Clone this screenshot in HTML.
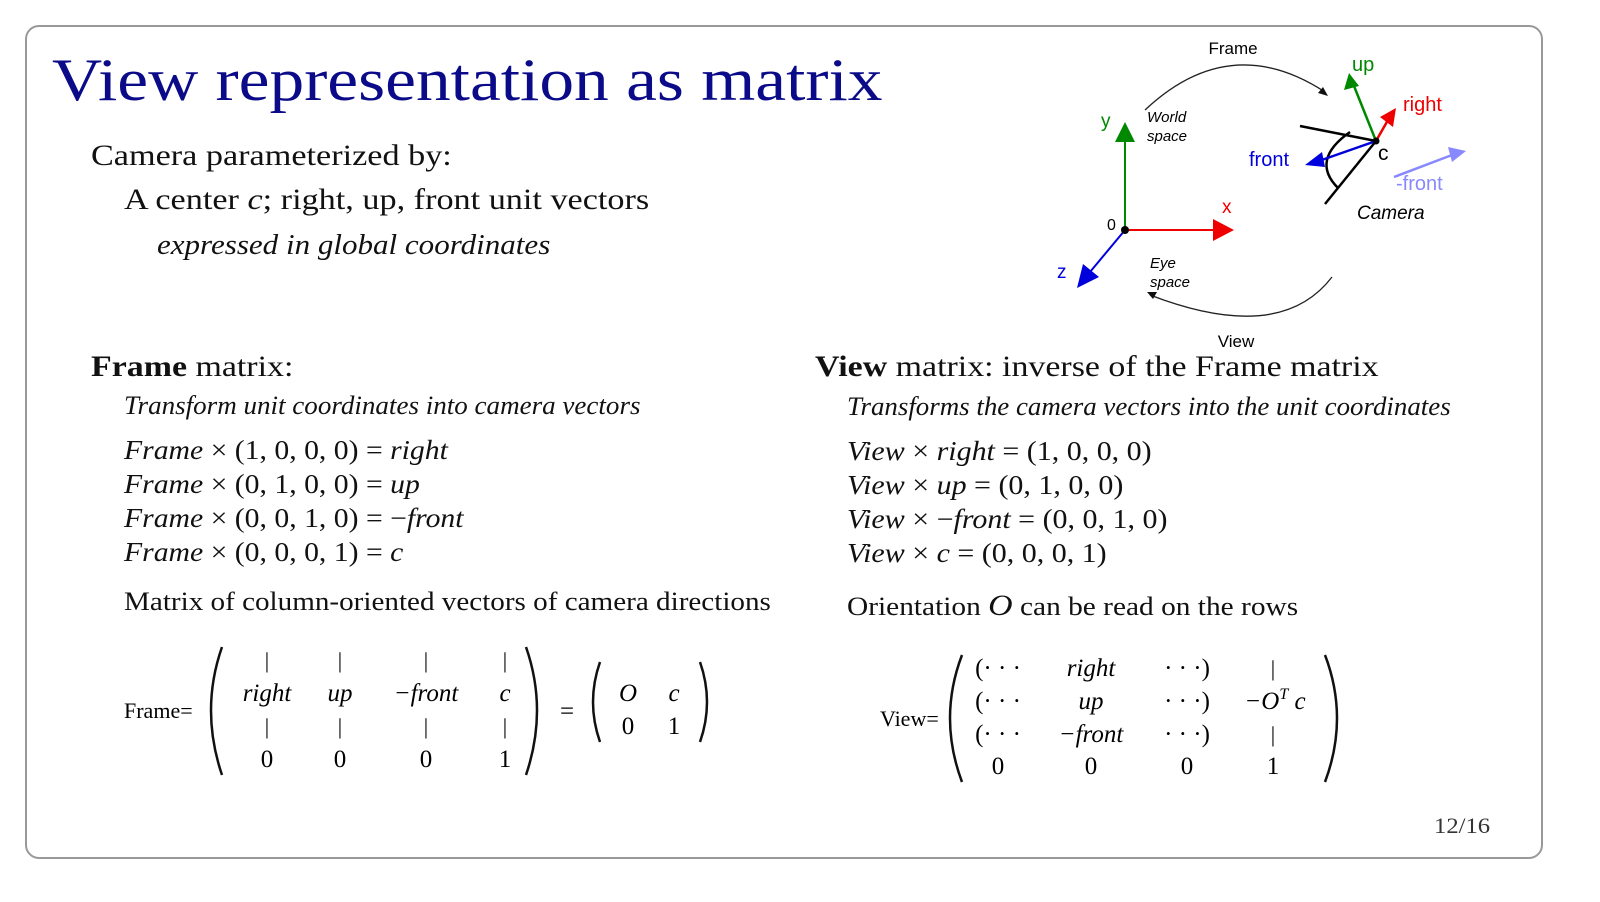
<!DOCTYPE html>
<html><head><meta charset="utf-8"><style>
html,body{margin:0;padding:0;background:#fff;}
body{width:1600px;height:902px;position:relative;overflow:hidden;font-family:"Liberation Serif",serif;color:#111;}
.t{position:absolute;white-space:nowrap;line-height:1;transform-origin:0 50%;}
.i{font-style:italic;}
</style></head><body>
<div style="position:absolute;left:25px;top:25px;width:1514px;height:830px;border:2px solid #999;border-radius:14px;"></div>
<div class="t" style="left:52px;top:50px;font-size:60px;color:#0b0b8a;transform:scaleX(1.157)">View representation as matrix</div>
<div class="t" style="left:91px;top:141px;font-size:30px;transform:scaleX(1.14)">Camera parameterized by:</div>
<div class="t" style="left:124px;top:185px;font-size:30px;transform:scaleX(1.14)">A center <i>c</i>; right, up, front unit vectors</div>
<div class="t i" style="left:157px;top:231px;font-size:29px;transform:scaleX(1.07)">expressed in global coordinates</div>

<div class="t" style="left:91px;top:352px;font-size:30px;transform:scaleX(1.13)"><b>Frame</b> matrix:</div>
<div class="t i" style="left:124px;top:393px;font-size:26px;transform:scaleX(1.04)">Transform unit coordinates into camera vectors</div>
<div class="t" style="left:124px;top:437px;font-size:27px;transform:scaleX(1.1)"><i>Frame</i> × (1, 0, 0, 0) = <i>right</i></div>
<div class="t" style="left:124px;top:471px;font-size:27px;transform:scaleX(1.1)"><i>Frame</i> × (0, 1, 0, 0) = <i>up</i></div>
<div class="t" style="left:124px;top:505px;font-size:27px;transform:scaleX(1.1)"><i>Frame</i> × (0, 0, 1, 0) = −<i>front</i></div>
<div class="t" style="left:124px;top:539px;font-size:27px;transform:scaleX(1.1)"><i>Frame</i> × (0, 0, 0, 1) = <i>c</i></div>
<div class="t" style="left:124px;top:589px;font-size:26px;transform:scaleX(1.12)">Matrix of column-oriented vectors of camera directions</div>

<div class="t" style="left:815px;top:352px;font-size:30px;transform:scaleX(1.13)"><b>View</b> matrix: inverse of the Frame matrix</div>
<div class="t i" style="left:847px;top:394px;font-size:26px;transform:scaleX(1.035)">Transforms the camera vectors into the unit coordinates</div>
<div class="t" style="left:847px;top:438px;font-size:27px;transform:scaleX(1.11)"><i>View</i> × <i>right</i> = (1, 0, 0, 0)</div>
<div class="t" style="left:847px;top:472px;font-size:27px;transform:scaleX(1.11)"><i>View</i> × <i>up</i> = (0, 1, 0, 0)</div>
<div class="t" style="left:847px;top:506px;font-size:27px;transform:scaleX(1.11)"><i>View</i> × −<i>front</i> = (0, 0, 1, 0)</div>
<div class="t" style="left:847px;top:540px;font-size:27px;transform:scaleX(1.11)"><i>View</i> × <i>c</i> = (0, 0, 0, 1)</div>
<div class="t" style="left:847px;top:591px;font-size:26px;transform:scaleX(1.13)">Orientation <i style="font-size:30px">O</i> can be read on the rows</div>

<div class="t" style="left:1434px;top:815px;font-size:22px;color:#333;transform:scaleX(1.12)">12/16</div>

<svg width="1600" height="902" style="position:absolute;left:0;top:0" font-family="Liberation Serif, serif" font-size="25">
<g fill="none" stroke="#111" stroke-width="2.5">
<path d="M222 647 Q200 710 222 775"/><path d="M526 647 Q548 710 526 775"/>
<path d="M600 662 Q586 702 600 742"/><path d="M700 662 Q714 702 700 742"/>
<path d="M962 655 Q938 718 962 782"/><path d="M1325 655 Q1349 718 1325 782"/>
</g>
<g text-anchor="middle">
<text x="124" y="718" text-anchor="start" font-size="22">Frame=</text>
<g font-size="22"><text x="267" y="668">|</text><text x="340" y="668">|</text><text x="426" y="668">|</text><text x="505" y="668">|</text>
<text x="267" y="734">|</text><text x="340" y="734">|</text><text x="426" y="734">|</text><text x="505" y="734">|</text></g>
<text x="267" y="701" font-style="italic">right</text><text x="340" y="701" font-style="italic">up</text><text x="426" y="701" font-style="italic">−front</text><text x="505" y="701" font-style="italic">c</text>
<text x="267" y="767">0</text><text x="340" y="767">0</text><text x="426" y="767">0</text><text x="505" y="767">1</text>
<text x="567" y="719">=</text>
<text x="628" y="701" font-style="italic">O</text><text x="674" y="701" font-style="italic">c</text>
<text x="628" y="734">0</text><text x="674" y="734">1</text>
<text x="880" y="726" text-anchor="start" font-size="22">View=</text>
<text x="998" y="676">(· · ·</text><text x="1091" y="676" font-style="italic">right</text><text x="1187" y="676">· · ·)</text>
<text x="998" y="709">(· · ·</text><text x="1091" y="709" font-style="italic">up</text><text x="1187" y="709">· · ·)</text>
<text x="998" y="742">(· · ·</text><text x="1091" y="742" font-style="italic">−front</text><text x="1187" y="742">· · ·)</text>
<text x="998" y="774">0</text><text x="1091" y="774">0</text><text x="1187" y="774">0</text><text x="1273" y="774">1</text>
<text x="1273" y="676" font-size="22">|</text><text x="1273" y="742" font-size="22">|</text>
<text x="1275" y="709" font-style="italic">−O<tspan font-size="16" dy="-10">T</tspan><tspan dy="10"> c</tspan></text>
</g>
<g font-family="Liberation Sans, sans-serif">
<path d="M1145 110 Q1230 30 1325 92" fill="none" stroke="#222" stroke-width="1.3"/>
<path d="M1328 96 l-10 -3 l5 -6 z" fill="#111"/>
<path d="M1332 277 Q1280 345 1150 295" fill="none" stroke="#222" stroke-width="1.3"/>
<path d="M1147 292 l10 0 l-4 7 z" fill="#111"/>
<text x="1233" y="54" font-size="17" text-anchor="middle">Frame</text>
<text x="1236" y="347" font-size="17" text-anchor="middle">View</text>
<text x="1147" y="122" font-size="15" font-style="italic">World</text>
<text x="1147" y="141" font-size="15" font-style="italic">space</text>
<text x="1150" y="268" font-size="15" font-style="italic">Eye</text>
<text x="1150" y="287" font-size="15" font-style="italic">space</text>
<line x1="1125" y1="230" x2="1125" y2="140" stroke="#080" stroke-width="2"/>
<path d="M1115 142 L1125 122 L1135 142 z" fill="#080"/>
<text x="1101" y="127" font-size="19" fill="#080">y</text>
<line x1="1125" y1="230" x2="1215" y2="230" stroke="#e00" stroke-width="2"/>
<path d="M1213 219 L1234 230 L1213 241 z" fill="#e00"/>
<text x="1222" y="213" font-size="19" fill="#e00">x</text>
<line x1="1125" y1="230" x2="1090" y2="272" stroke="#00d" stroke-width="2"/>
<path d="M1083 264 L1077 288 L1099 277 z" fill="#00d"/>
<text x="1057" y="278" font-size="19" fill="#00d">z</text>
<circle cx="1125" cy="230" r="4" fill="#000"/>
<text x="1107" y="230" font-size="16">0</text>
<line x1="1300" y1="126" x2="1376" y2="141" stroke="#000" stroke-width="2.5"/>
<line x1="1376" y1="141" x2="1325" y2="204" stroke="#000" stroke-width="2.5"/>
<path d="M1350 132 Q1310 160 1338 188" fill="none" stroke="#000" stroke-width="2.5"/>
<line x1="1376" y1="141" x2="1316" y2="162" stroke="#00d" stroke-width="2.5"/>
<path d="M1322 152 L1305 165 L1325 167 z" fill="#00d"/>
<text x="1249" y="166" font-size="20" fill="#00d">front</text>
<line x1="1376" y1="141" x2="1354" y2="86" stroke="#080" stroke-width="2.5"/>
<path d="M1344 90 L1349 73 L1359 86 z" fill="#080"/>
<text x="1352" y="71" font-size="20" fill="#080">up</text>
<line x1="1376" y1="141" x2="1388" y2="120" stroke="#e00" stroke-width="2.5"/>
<path d="M1380 117 L1396 108 L1393 127 z" fill="#e00"/>
<text x="1403" y="111" font-size="20" fill="#e00">right</text>
<circle cx="1376" cy="141" r="3.5" fill="#000"/>
<text x="1378" y="160" font-size="21">c</text>
<line x1="1394" y1="177" x2="1452" y2="155" stroke="#88f" stroke-width="2.5"/>
<path d="M1448 147 L1466 151 L1452 162 z" fill="#88f"/>
<text x="1396" y="190" font-size="20" fill="#88f">-front</text>
<text x="1357" y="219" font-size="19" font-style="italic">Camera</text>
</g>
</svg>
</body></html>
